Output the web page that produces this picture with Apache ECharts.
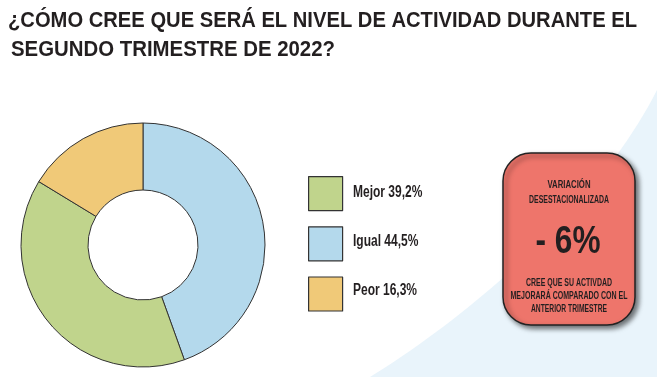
<!DOCTYPE html>
<html>
<head>
<meta charset="utf-8">
<script src="https://cdn.jsdelivr.net/npm/echarts@6/dist/echarts.min.js"></script>
<style>html,body{margin:0;padding:0;background:#fff;}#c{width:657px;height:377px;}</style>
</head>
<body>
<div id="c"></div>
<script>
// Data
const categories = ['Igual', 'Mejor', 'Peor'];
const values = [44.5, 39.2, 16.3];
const legendOrder = ['Mejor', 'Igual', 'Peor'];
const colors = {Igual: '#b4d9ec', Mejor: '#c0d48c', Peor: '#f0c978'};
const titleLines = ['¿CÓMO CREE QUE SERÁ EL NIVEL DE ACTIVIDAD DURANTE EL', 'SEGUNDO TRIMESTRE DE 2022?'];
const boxTop = ['VARIACIÓN', 'DESESTACIONALIZADA'];
const boxValue = '- 6%';
const boxBottom = ['CREE QUE SU ACTIVDAD', 'MEJORARÁ COMPARADO CON EL', 'ANTERIOR TRIMESTRE'];

const fmt = v => v.toFixed(1).replace('.', ',') + '%';
const SANS = '"Liberation Sans", Arial, sans-serif';
const INK = '#231f20';

// measure helper to emulate condensed type by horizontal scaling
const mctx = document.createElement('canvas').getContext('2d');
function tw(str, font) { mctx.font = font; return mctx.measureText(str).width; }
function condText(str, x, y, size, targetW, align) {
  const font = 'bold ' + size + 'px ' + SANS;
  const s = targetW ? targetW / tw(str, font) : 0.75;
  return {type: 'text', x: x, y: y, scaleX: s, silent: true,
          style: {text: str, font: font, fill: INK, align: align || 'center', verticalAlign: 'middle'}};
}

// decorative background curve (cubic bezier sampled into a polygon)
function bgShape() {
  const p0 = [370, 377], p1 = [475, 312], p2 = [600, 203], p3 = [657, 90];
  const pts = [];
  for (let i = 0; i <= 40; i++) {
    const t = i / 40, u = 1 - t;
    pts.push([
      u*u*u*p0[0] + 3*u*u*t*p1[0] + 3*u*t*t*p2[0] + t*t*t*p3[0],
      u*u*u*p0[1] + 3*u*u*t*p1[1] + 3*u*t*t*p2[1] + t*t*t*p3[1]
    ]);
  }
  pts.push([657, 377]);
  return pts;
}

const legendY = [193, 242, 291];
const legendTexts = legendOrder.map((name, i) =>
  condText(name + ' ' + fmt(values[categories.indexOf(name)]), 353, legendY[i], 16, null, 'left'));

const chart = echarts.init(document.getElementById('c'), null, {renderer: 'canvas'});
chart.setOption({
  backgroundColor: '#fff',
  animation: false,
  graphic: [
    {type: 'polygon', z: -10, silent: true, shape: {points: bgShape()}, style: {fill: '#e9f4fb'}},
    condText(titleLines[0], 8, 21, 22, 629, 'left'),
    condText(titleLines[1], 11, 49.5, 22, 324, 'left'),
    {type: 'rect', shape: {x: 503, y: 153, width: 132, height: 172, r: 28},
     style: {fill: '#ee756b', stroke: '#222', lineWidth: 1.5, shadowColor: 'rgba(0,0,0,0.55)', shadowBlur: 5, shadowOffsetX: 3, shadowOffsetY: 3}},
    condText(boxTop[0], 569, 185, 11, 43),
    condText(boxTop[1], 569, 200, 11, 80),
    condText(boxValue, 568, 243, 38, 65),
    condText(boxBottom[0], 569, 283, 11, 86),
    condText(boxBottom[1], 569, 296, 11, 117),
    condText(boxBottom[2], 569, 309, 11, 76)
  ].concat(legendTexts),
  legend: {
    orient: 'vertical',
    left: 308, top: 176, padding: 0,
    itemWidth: 34, itemHeight: 34, itemGap: 15,
    icon: 'rect',
    data: legendOrder,
    itemStyle: {borderColor: '#333', borderWidth: 1.2},
    formatter: () => '',
    selectedMode: false
  },
  series: [{
    type: 'pie',
    center: [143, 245],
    radius: [55, 122],
    startAngle: 90,
    clockwise: true,
    label: {show: false},
    labelLine: {show: false},
    emphasis: {disabled: true},
    itemStyle: {borderColor: '#333', borderWidth: 1},
    data: categories.map((c, i) => ({name: c, value: values[i], itemStyle: {color: colors[c]}}))
  }]
});
</script>
</body>
</html>
